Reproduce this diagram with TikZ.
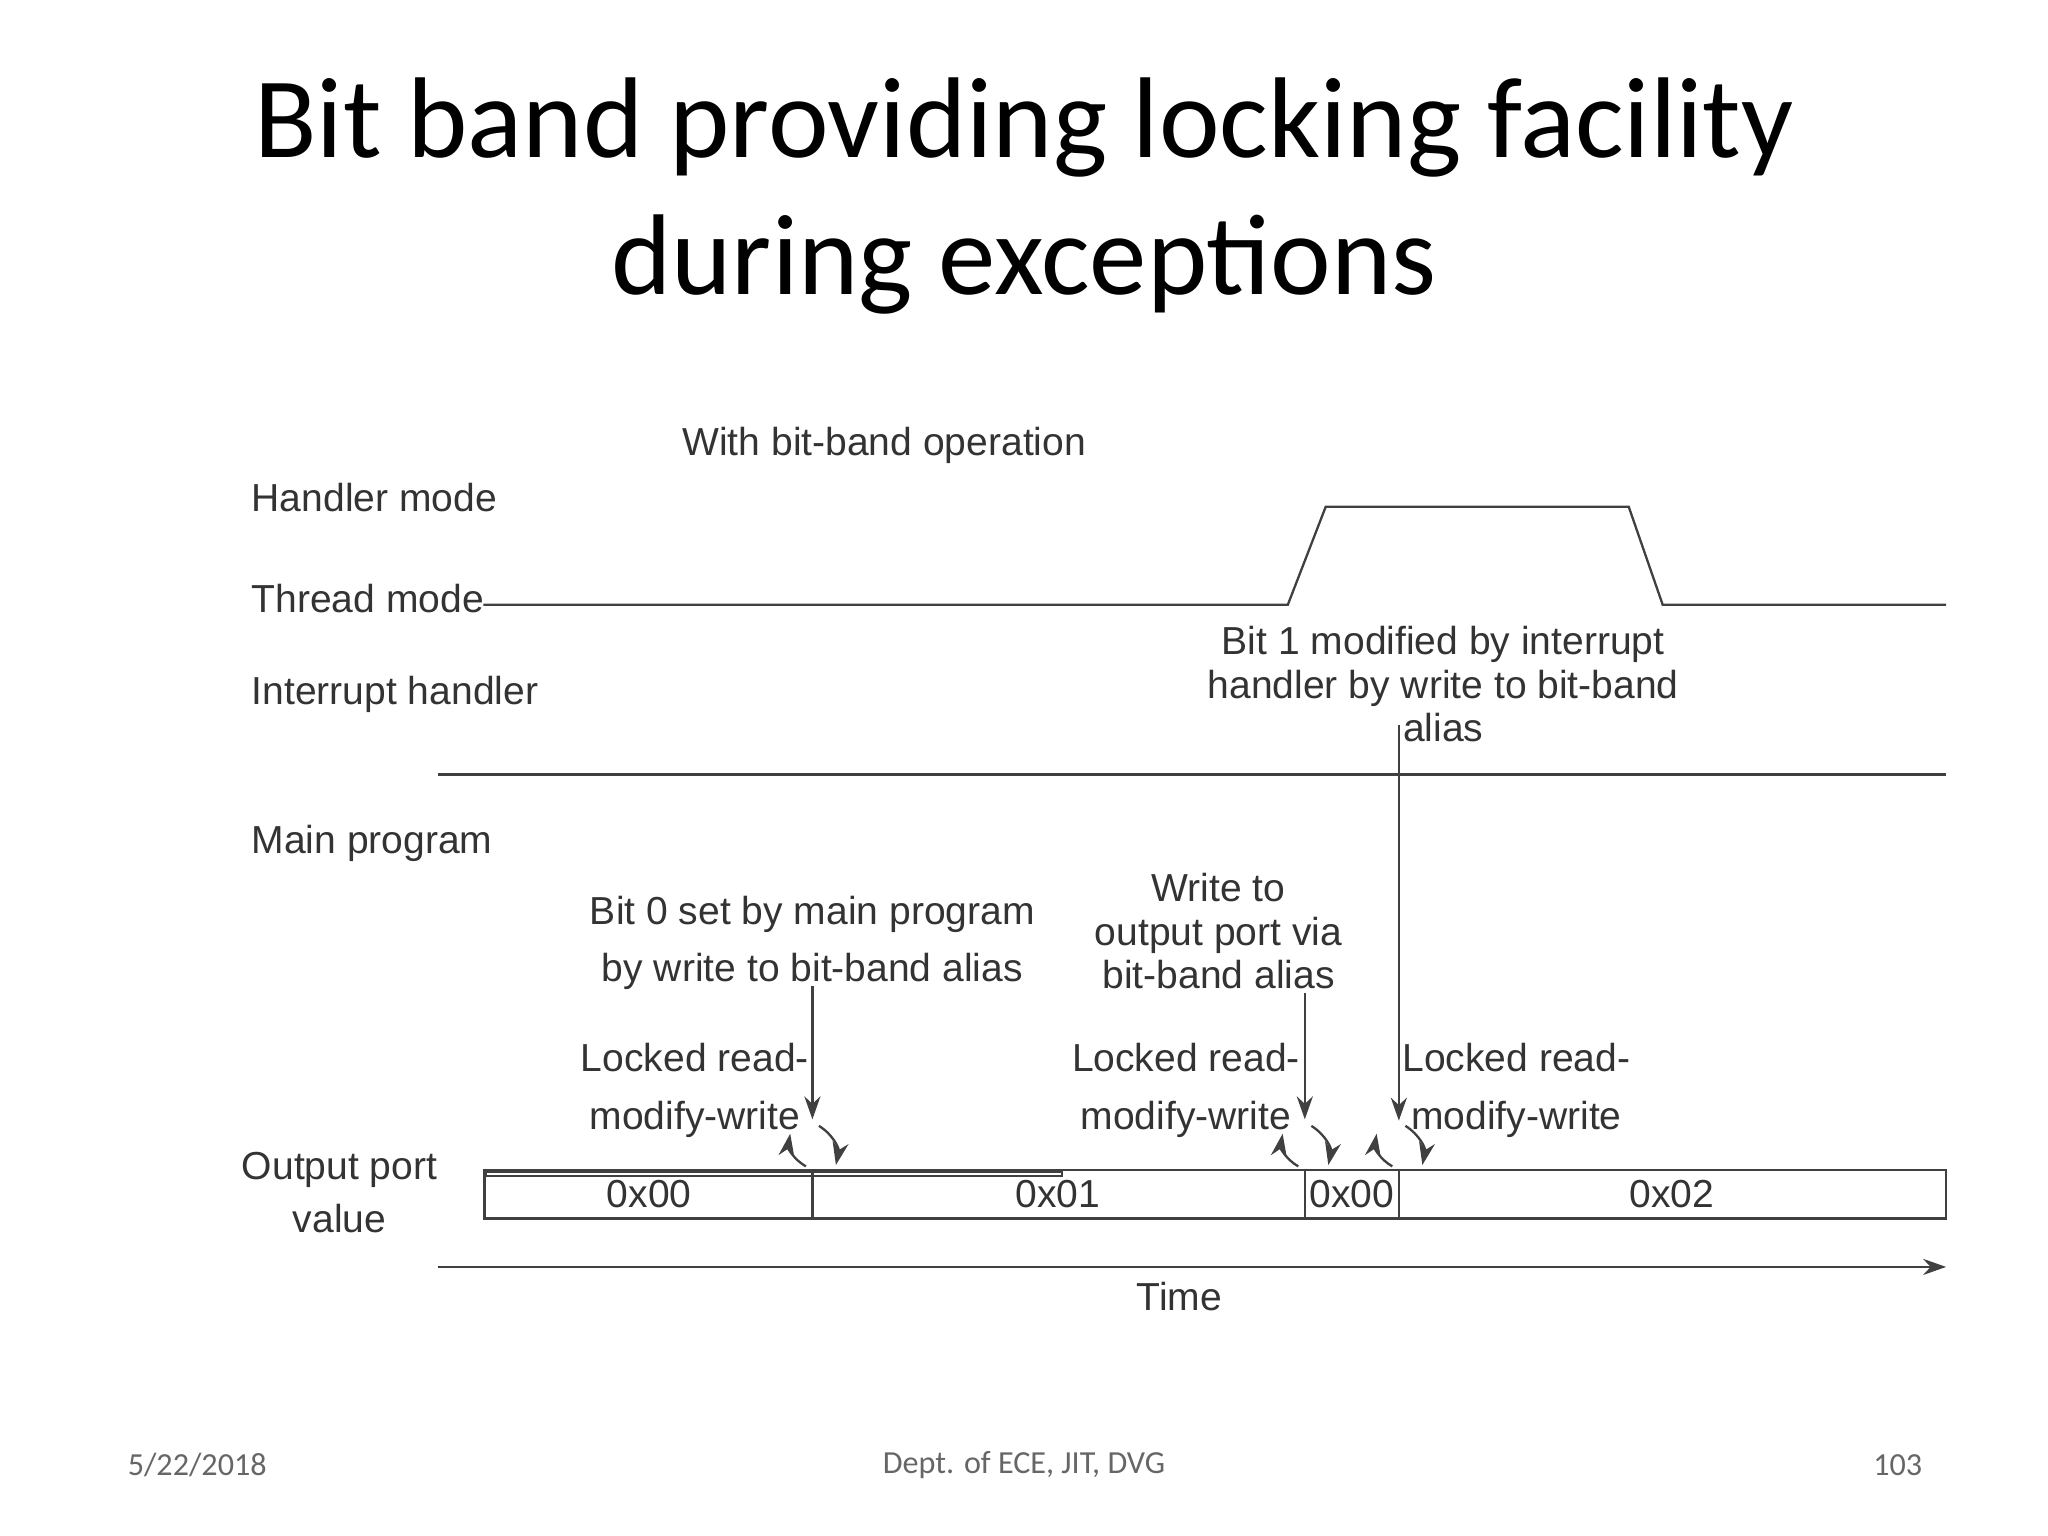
\documentclass[tikz,border=0pt]{standalone}
\usepackage{fontspec}
\setmainfont{Liberation Sans}
\newfontfamily\calib{Carlito}
\usetikzlibrary{arrows.meta}
\begin{document}
\begin{tikzpicture}[x=0.01cm,y=-0.01cm,
  lab/.style={font=\fontsize{8.5}{9.5}\selectfont,text=black!80,inner sep=0pt},
  ln/.style={draw=black!75,line width=0.5pt},
  arr/.style={ln,-{Stealth[length=5pt,width=3.5pt]}},
  foot/.style={font=\calib\fontsize{7}{8}\selectfont,text=black!60}]
\useasboundingbox (0,0) rectangle (1568,1176);
\node[font=\calib\fontsize{25}{30}\selectfont,align=center] (title) at (784,150) {Bit band providing locking facility\\during exceptions};
\node[lab] (with) at (677,341) {With bit-band operation};
\node[lab,anchor=west] (hm) at (192,381) {Handler mode};
\node[lab,anchor=west] (tm) at (192,458) {Thread mode};
\node[lab,anchor=west] (ih) at (192,532) {Interrupt handler};
\node[lab,anchor=west] (mp) at (192,646) {Main program};
\node[lab,align=center] (op) at (260,913) {Output port\\[2pt]value};
% mode line
\coordinate (t0) at (370,463); \coordinate (t1) at (986,463); \coordinate (t2) at (1015,388);
\coordinate (t3) at (1247,388); \coordinate (t4) at (1273,463); \coordinate (t5) at (1490,463);
\draw[ln] (t0)--(t1)--(t2)--(t3)--(t4)--(t5);
\coordinate (i0) at (335,593); \coordinate (i1) at (1490,593);
\draw[ln] (i0)--(i1);
% output box
\node[ln,draw,minimum width=251\pgflinewidth,inner sep=0pt,anchor=north west] (b1) at (371,896) {};
\draw[ln] (371,896) rectangle (1490,933);
\draw[ln] (622,896)--(622,933) (999,896)--(999,933) (1071,896)--(1071,933);
\node[lab] (v1) at (497,914) {0x00};
\node[lab] (v2) at (810,914) {0x01};
\node[lab] (v3) at (1035,914) {0x00};
\node[lab] (v4) at (1280,914) {0x02};
% time
\coordinate (ta) at (335,970); \coordinate (tb) at (1490,970);
\draw[arr] (ta)--(tb);
\node[lab] (time) at (903,993) {Time};
% annotations
\node[lab,align=center] (bit1) at (1105,524) {Bit 1 modified by interrupt\\handler by write to bit-band\\alias};
\coordinate (b1s) at (1071,555); \coordinate (b1e) at (1071,858);
\draw[arr] (b1s)--(b1e);
\node[lab,align=center] (bit0) at (622,722) {Bit 0 set by main program\\[3pt]by write to bit-band alias};
\coordinate (b0s) at (622,755); \coordinate (b0e) at (622,857);
\draw[arr] (b0s)--(b0e);
\node[lab,align=center] (wr) at (933,713) {Write to\\output port via\\bit-band alias};
\coordinate (ws) at (999,760); \coordinate (we) at (999,857);
\draw[arr] (ws)--(we);
\node[lab,align=center] (l1) at (532,835) {Locked read-\\[3pt]modify-write};
\node[lab,align=center] (l2) at (908,835) {Locked read-\\[3pt]modify-write};
\node[lab,align=center] (l3) at (1161,835) {Locked read-\\[3pt]modify-write};
% curved arrows
\foreach \x/\n in {622/a,999/b,1071/c}{
  \coordinate (ca\n) at (\x-5,893); \coordinate (cb\n) at (\x-17,868);
  \coordinate (cc\n) at (\x+5,862); \coordinate (cd\n) at (\x+18,892);
  \draw[arr] (ca\n) to[bend left=35] (cb\n);
  \draw[arr] (cc\n) to[bend left=35] (cd\n);
}
\node[foot] (d) at (151,1122) {5/22/2018};
\node[foot] (dept) at (784,1122) {Dept. of ECE, JIT, DVG};
\node[foot] (pg) at (1453,1122) {103};
\end{tikzpicture}
\end{document}
